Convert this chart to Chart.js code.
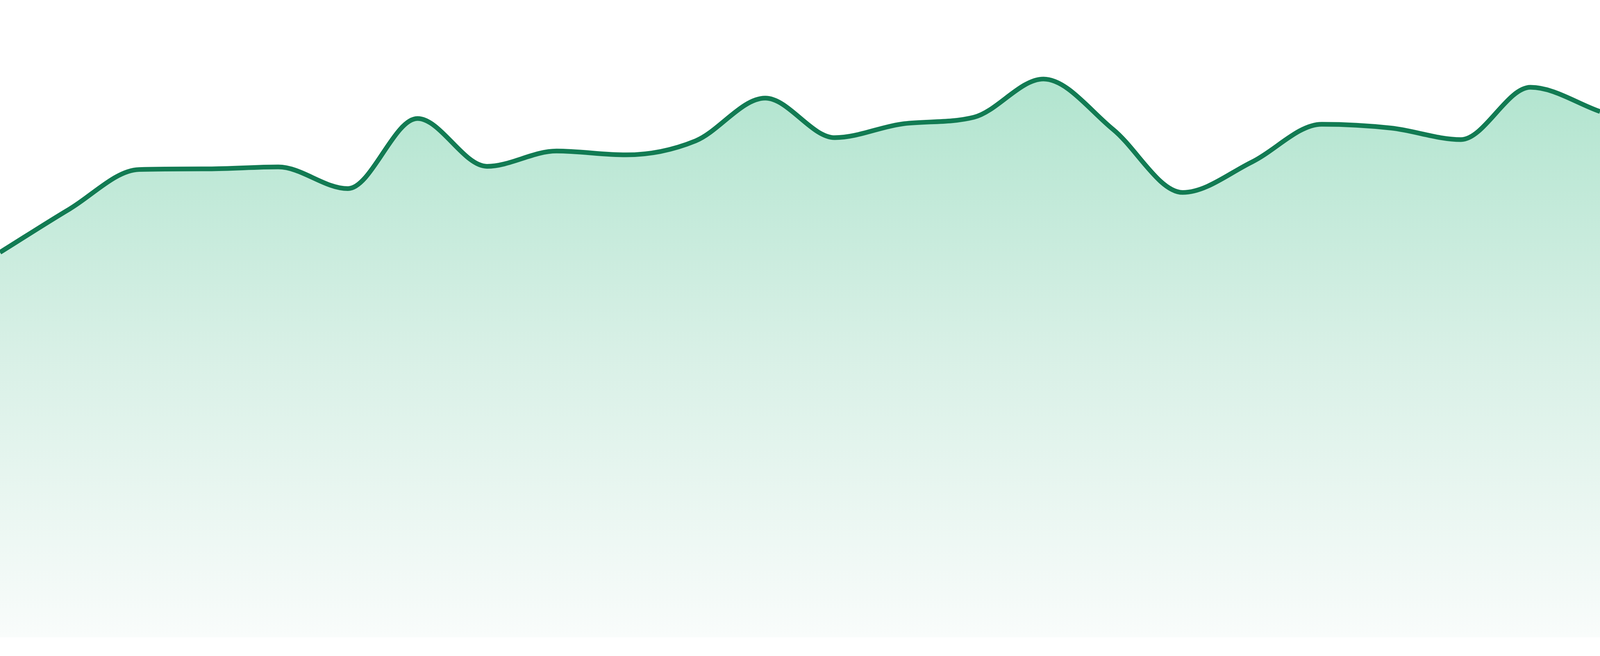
<!DOCTYPE html>
<html>
<head>
<meta charset="utf-8">
<script src="https://cdn.jsdelivr.net/npm/chart.js@4"></script>
<style>
  html, body { margin: 0; padding: 0; background: #ffffff; overflow: hidden; }
  #wrap { position: fixed; left: 0; top: 0; width: 100vw; height: 100vh; }
  canvas { display: block; }
</style>
</head>
<body>
<div id="wrap"><canvas id="c"></canvas></div>
<script>
// Data (24 equally spaced points)
const labels = ["1","2","3","4","5","6","7","8","9","10","11","12","13","14","15","16","17","18","19","20","21","22","23","24"];
const values = [60.4, 67.2, 73.4, 73.5, 73.8, 70.4, 81.4, 73.9, 76.3, 75.7, 77.9, 84.6,
                78.4, 80.6, 81.6, 87.6, 79.7, 69.8, 74.6, 80.5, 79.9, 78.1, 86.3, 82.5];
const yMin = 0;
const yMax = 100;

const lineColor = '#127b53';

const W = window.innerWidth || 4800;
const H = window.innerHeight || 1680;
const sx = W / 4800;
const sy = H / 1680;

function areaGradient(context) {
  const chart = context.chart;
  const area = chart.chartArea;
  if (!area) return 'rgba(180,228,206,0.8)';
  const g = chart.ctx.createLinearGradient(0, area.top, 0, area.bottom);
  g.addColorStop(0, 'rgb(166,225,200)');
  g.addColorStop(0.55, 'rgb(216,240,230)');
  g.addColorStop(1, 'rgb(249,252,251)');
  return g;
}

new Chart(document.getElementById('c').getContext('2d'), {
  type: 'line',
  data: {
    labels: labels,
    datasets: [{
      data: values,
      borderColor: lineColor,
      borderWidth: 14 * sx,
      backgroundColor: areaGradient,
      fill: 'start',
      pointRadius: 0,
      pointHoverRadius: 0,
      cubicInterpolationMode: 'monotone'
    }]
  },
  options: {
    responsive: true,
    maintainAspectRatio: false,
    animation: false,
    layout: { padding: { top: 0, bottom: 48 * sy, left: 0, right: 0 } },
    plugins: { legend: { display: false }, tooltip: { enabled: false } },
    scales: {
      x: { display: false, offset: false },
      y: { display: false, min: yMin, max: yMax }
    }
  }
});
</script>
</body>
</html>
